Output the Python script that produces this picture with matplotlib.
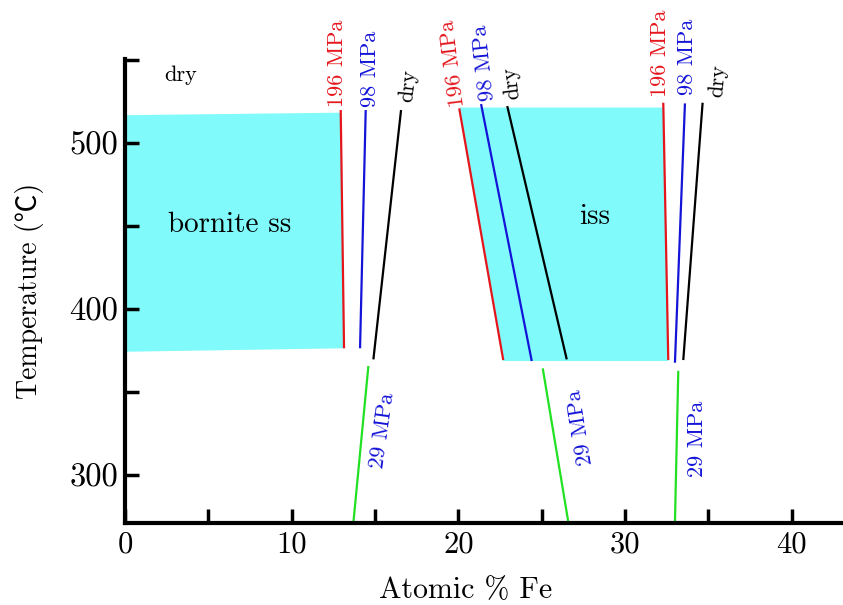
import matplotlib
matplotlib.use("Agg")
import matplotlib.pyplot as plt

# ---- data ----
# solid-solution fields (Atomic % Fe, Temperature in C)
bornite_x = [0.0, 12.94, 13.14, 0.0]
bornite_T = [517.0, 518.5, 376.4, 374.3]
iss_x = [20.05, 32.29, 32.59, 22.69]
iss_T = [521.6, 521.6, 368.7, 368.7]

# phase boundaries (top point, bottom point)
bn_196_x = [12.94, 13.14]; bn_196_T = [520.1, 376.4]
bn_98_x = [14.44, 14.10];  bn_98_T = [520.1, 376.4]
bn_dry_x = [16.56, 14.90]; bn_dry_T = [520.1, 369.7]
bn_29_x = [14.60, 13.70];  bn_29_T = [365.7, 271.2]

issL_196_x = [20.05, 22.69]; issL_196_T = [521.1, 369.3]
issL_98_x = [21.36, 24.40];  issL_98_T = [523.7, 368.7]
issL_dry_x = [22.93, 26.50]; issL_dry_T = [522.5, 369.7]
issL_29_x = [25.06, 26.60];  issL_29_T = [364.3, 271.2]

issR_196_x = [32.29, 32.59]; issR_196_T = [524.5, 369.3]
issR_98_x = [33.59, 32.99];  issR_98_T = [524.1, 367.7]
issR_dry_x = [34.65, 33.49]; issR_dry_T = [524.5, 369.3]
issR_29_x = [33.19, 32.99];  issR_29_T = [362.8, 271.2]

x_ticks = [0, 10, 20, 30, 40]
x_minor = [5, 15, 25, 35]
y_ticks = [300, 400, 500]
y_minor = [350, 450, 550]

RED = "#e4161c"
BLUE = "#1414d8"
BLACK = "#000000"
GREEN = "#22e022"
CYAN = "#80fafa"

FONT = ["cmr10", "Noto Sans CJK JP", "DejaVu Serif"]
plt.rcParams["font.family"] = FONT
plt.rcParams["axes.formatter.use_mathtext"] = True

fig = plt.figure(figsize=(8.43, 6.05), dpi=100)
ax = fig.add_axes([125 / 843, (605 - 522.7) / 605, 1 - 125 / 843, (522.7 - 59.3) / 605])

ax.fill(bornite_x, bornite_T, color=CYAN, lw=0, zorder=1)
ax.fill(iss_x, iss_T, color=CYAN, lw=0, zorder=1)

lines = [
    (bn_196_x, bn_196_T, RED), (bn_98_x, bn_98_T, BLUE), (bn_dry_x, bn_dry_T, BLACK), (bn_29_x, bn_29_T, GREEN),
    (issL_196_x, issL_196_T, RED), (issL_98_x, issL_98_T, BLUE), (issL_dry_x, issL_dry_T, BLACK), (issL_29_x, issL_29_T, GREEN),
    (issR_196_x, issR_196_T, RED), (issR_98_x, issR_98_T, BLUE), (issR_dry_x, issR_dry_T, BLACK), (issR_29_x, issR_29_T, GREEN),
]
for xs, ts, c in lines:
    ax.plot(xs, ts, color=c, lw=1.6, zorder=2, clip_on=False, solid_capstyle="butt")

# labels: text, x, T, rotation, color, size
labels = [
    ("196 MPa", 12.73, 548.0, 90, RED, 16),
    ("98 MPa", 14.70, 545.0, 90, BLUE, 16),
    ("dry", 16.98, 534.5, 84, BLACK, 16),
    ("196 MPa", 19.70, 548.5, 97, RED, 16),
    ("98 MPa", 21.55, 548.7, 96, BLUE, 16),
    ("dry", 23.20, 536.2, 97, BLACK, 16),
    ("196 MPa", 32.09, 554.5, 90, RED, 16),
    ("98 MPa", 33.70, 552.2, 90, BLUE, 16),
    ("dry", 35.56, 537.6, 85, BLACK, 16),
    ("29 MPa", 15.43, 327.0, 82, BLUE, 16),
    ("29 MPa", 27.30, 329.0, 99, BLUE, 16),
    ("29 MPa", 34.30, 321.7, 90, BLUE, 16),
]
for t, x, y, r, c, s in labels:
    ax.text(x, y, t, rotation=r, color=c, fontsize=s, ha="center", va="center",
            rotation_mode="anchor", clip_on=False, zorder=3)

ax.text(3.33, 541.0, "dry", fontsize=16, ha="center", va="center", color=BLACK)
ax.text(6.3, 450.7, "bornite ss", fontsize=21, ha="center", va="center", color=BLACK)
ax.text(28.2, 455.7, "iss", fontsize=21, ha="center", va="center", color=BLACK)

ax.set_xlim(0, (843 - 125) / 16.67)
ax.set_ylim(271.2, 550.7)
ax.set_xticks(x_ticks)
ax.set_xticks(x_minor, minor=True)
ax.set_yticks(y_ticks)
ax.set_yticks(y_minor, minor=True)
ax.set_xticklabels([str(v) for v in x_ticks])
ax.set_yticklabels([str(v) for v in y_ticks])

for s in ["top", "right"]:
    ax.spines[s].set_visible(False)
for s in ["left", "bottom"]:
    ax.spines[s].set_linewidth(3)
ax.tick_params(which="both", direction="in", length=10, width=2.5)
ax.tick_params(axis="x", which="both", pad=6, labelsize=22)
ax.tick_params(axis="y", which="both", pad=5, labelsize=23.5)

fig.text(466 / 843, 7 / 605, "Atomic % Fe", fontsize=21.5, ha="center", va="baseline")
ax.set_ylabel("Temperature (℃)", fontsize=20, labelpad=18)

fig.savefig("out.png", dpi=100)
